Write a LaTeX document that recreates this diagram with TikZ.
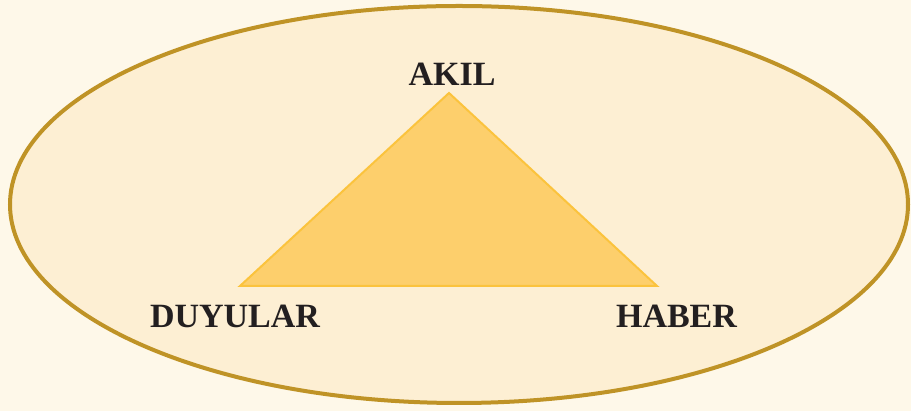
\documentclass[tikz,border=0pt]{standalone}
\usepackage{fontspec}
\setmainfont{Liberation Serif}
\usetikzlibrary{positioning}
\definecolor{pagebg}{HTML}{FEF8E9}
\definecolor{ovalfill}{HTML}{FDEFD3}
\definecolor{ovalline}{HTML}{BF9326}
\definecolor{trifill}{HTML}{FDCF6C}
\definecolor{triline}{HTML}{FBC33D}
\definecolor{inkdark}{HTML}{231F20}
\begin{document}
\begin{tikzpicture}[
    x=1pt, y=1pt,
    corner/.style={font=\fontsize{34}{40}\selectfont\bfseries, text=inkdark, anchor=base, inner sep=0pt},
    oval/.style={draw=ovalline, fill=ovalfill, line width=4pt},
    tri/.style={draw=triline, fill=trifill, line width=2pt, line join=miter}
]
\fill[pagebg] (0, 0) rectangle (911, 411);
\useasboundingbox (0, 0) rectangle (911, 411);

\draw[oval] (459, 206.5) ellipse [x radius=449, y radius=198.5];

\coordinate (apex) at (449, 318);
\coordinate (baseL) at (240, 125);
\coordinate (baseR) at (657, 125);
\draw[tri] (apex) -- (baseL) -- (baseR) -- cycle;

\node[corner] (akil) at (452, 325) {AKIL};
\node[corner] (duyular) at (235, 83) {DUYULAR};
\node[corner] (haber) at (676.5, 83) {HABER};
\end{tikzpicture}
\end{document}
